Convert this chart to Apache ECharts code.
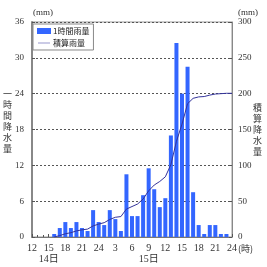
<!DOCTYPE html>
<html>
<head>
<meta charset="utf-8">
<script src="https://cdn.jsdelivr.net/npm/echarts@6/dist/echarts.min.js"></script>
<style>
  html, body { margin: 0; padding: 0; background: #fff; }
  #chart { width: 267px; height: 267px; }
</style>
</head>
<body>
<div id="chart"></div>
<script>
// hours counted from 12時 on the 14th (0 = 14日12時, 36 = 15日24時)
const hours = [4,5,6,7,8,9,10,11,12,13,14,15,16,17,18,19,20,21,22,23,24,25,26,27,28,29,30,31,32,33,34,35];
// 1時間雨量 (mm)
const hourlyRain = [0.5,1.5,2.5,1.5,2.5,1.5,1,4.5,2.5,2,4.5,3,1,10.5,3.5,3.5,7,11.5,8,5,6.5,17,32.5,24,28.5,7.5,2,0.5,2,2,0.5,0.5];
// 積算雨量 (mm)
const lineHours = [4,5,6,7,8,9,10,11,12,13,14,15,16,17,18,19,20,21,22,23,24,25,26,27,28,29,30,31,32,33,34,35,36];
const totalRain = [0,2,4.5,6,8.5,10,11,15.5,18,20,24.5,27.5,28.5,39,42.5,46,53,64.5,72.5,77.5,84,101,133.5,157.5,186,193.5,195.5,196,198,199.5,200,200.5,200.5];
const xTickLabels = ['12','15\n14日','18','21','24','3','6','9\n15日','12','15','18','21','24'];

const serif = '"Liberation Serif", "DejaVu Serif", "Noto Sans CJK JP", serif';
const jp = '"Noto Sans CJK JP", sans-serif';
// thin horizontal bar inside a 20x10 box, so the legend shows just a line
const lineIcon = 'path://M0,0 L0.01,0 M0,4.5 L20,4.5 L20,5.5 L0,5.5 Z M0,10 L0.01,10';

const chart = echarts.init(document.getElementById('chart'));
const option = {
  animation: false,
  grid: { left: 32, right: 35, top: 22, bottom: 30, show: true, borderColor: '#999', borderWidth: 1 },
  legend: {
    orient: 'vertical', left: 33, top: 24,
    backgroundColor: '#fff', borderColor: '#888', borderWidth: 1,
    padding: [3, 4, 3, 4], itemGap: 4, itemWidth: 14, itemHeight: 6,
    textStyle: { fontSize: 8, fontFamily: jp, color: '#222', padding: [0, 0, 0, -3] },
    data: [{ name: '1時間雨量', icon: 'rect' }, { name: '積算雨量', icon: lineIcon }]
  },
  xAxis: {
    type: 'value', min: 0, max: 36, interval: 3,
    axisLine: { lineStyle: { color: '#777', width: 1 } },
    axisTick: { inside: true, length: 3, lineStyle: { color: '#555' } },
    minorTick: { show: true, splitNumber: 3, length: 2, lineStyle: { color: '#555' } },
    splitLine: { show: false },
    axisLabel: {
      fontSize: 10, fontFamily: serif, color: '#333', margin: 6, lineHeight: 11,
      formatter: v => xTickLabels[Math.round(v / 3)]
    }
  },
  yAxis: [{
    type: 'value', min: 0, max: 36, interval: 6,
    axisLine: { show: true, lineStyle: { color: '#888', width: 2 } },
    axisTick: { show: true, inside: true, length: 3, lineStyle: { color: '#555' } },
    splitLine: { lineStyle: { color: '#555', type: [2, 2], width: 1 } },
    axisLabel: { fontSize: 9, fontFamily: serif, color: '#333', margin: 8 }
  }, {
    type: 'value', min: 0, max: 300, interval: 50,
    axisLine: { show: true, lineStyle: { color: '#888', width: 1 } },
    axisTick: { show: true, inside: true, length: 3, lineStyle: { color: '#555' } },
    splitLine: { show: false },
    axisLabel: { fontSize: 9, fontFamily: serif, color: '#333', margin: 6 }
  }],
  graphic: [
    { type: 'text', left: 33, top: 8, style: { text: '(mm)', fontSize: 9, fontFamily: serif, fill: '#333' } },
    { type: 'text', left: 238, top: 8, style: { text: '(mm)', fontSize: 9, fontFamily: serif, fill: '#333' } },
    { type: 'text', left: 3, top: 88, style: { text: '一\n時\n間\n降\n水\n量', fontSize: 9, lineHeight: 11, fontFamily: jp, fill: '#333' } },
    { type: 'text', left: 253, top: 102, style: { text: '積\n算\n降\n水\n量', fontSize: 9, lineHeight: 11, fontFamily: jp, fill: '#333' } },
    { type: 'text', left: 238, top: 244, style: { text: '(時)', fontSize: 9, fontFamily: jp, fill: '#333' } }
  ],
  series: [{
    name: '1時間雨量', type: 'bar', barWidth: 4,
    itemStyle: { color: '#3366ff' },
    data: hours.map((h, i) => [h, hourlyRain[i]])
  }, {
    name: '積算雨量', type: 'line', yAxisIndex: 1,
    symbol: 'none', showSymbol: false,
    lineStyle: { color: '#33339a', width: 1 },
    itemStyle: { color: '#33339a' },
    data: lineHours.map((h, i) => [h, totalRain[i]])
  }]
};
chart.setOption(option);
</script>
</body>
</html>
